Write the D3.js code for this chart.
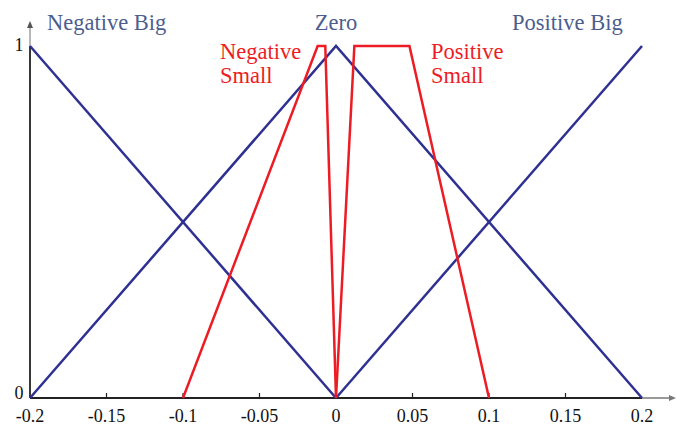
<!DOCTYPE html>
<html>
<head>
<meta charset="utf-8">
<script src="https://cdn.jsdelivr.net/npm/d3@7"></script>
<style>
  html, body { margin: 0; padding: 0; background: #fff; }
  svg { display: block; }
</style>
</head>
<body>
<svg id="chart" width="677" height="430"></svg>
<script>
// Membership functions (x, membership)
const negativeBig   = [[-0.2, 1], [0, 0]];
const zero          = [[-0.2, 0], [0, 1], [0.2, 0]];
const positiveBig   = [[0, 0], [0.2, 1]];
const negativeSmall = [[-0.1, 0], [-0.012, 1], [-0.007, 1], [0, 0]];
const positiveSmall = [[0, 0], [0.012, 1], [0.048, 1], [0.1, 0]];

const xTicks = [-0.2, -0.15, -0.1, -0.05, 0, 0.05, 0.1, 0.15, 0.2];
const xTickLabels = ["-0.2", "-0.15", "-0.1", "-0.05", "0", "0.05", "0.1", "0.15", "0.2"];
const yTicks = [0, 1];

const blue = "#2e3192";
const red = "#ed1c24";
const labelBlue = "#4c5d8e";
const FONT = "'Liberation Serif', 'Times New Roman', Times, 'DejaVu Serif', serif";

const svg = d3.select("#chart").style("font-family", FONT);
const x = d3.scaleLinear().domain([-0.2, 0.2]).range([30, 642]);
const y = d3.scaleLinear().domain([0, 1]).range([398, 46]);

// axes extensions (gray) with arrows
svg.append("line").attr("x1", x(0.2)).attr("x2", 674).attr("y1", y(0)).attr("y2", y(0))
  .attr("stroke", "#777").attr("stroke-width", 1.5);
svg.append("path").attr("d", `M676,${y(0)} l-7,-3 l0,6 z`).attr("fill", "#777");
svg.append("line").attr("x1", x(-0.2)).attr("x2", x(-0.2)).attr("y1", y(1)).attr("y2", 24)
  .attr("stroke", "#888").attr("stroke-width", 1.2);
svg.append("path").attr("d", `M${x(-0.2)},21 l-3,7 l6,0 z`).attr("fill", "#555");

// main axes
svg.append("line").attr("x1", x(-0.2)).attr("x2", x(0.2)).attr("y1", y(0)).attr("y2", y(0))
  .attr("stroke", "#222").attr("stroke-width", 1.8);
svg.append("line").attr("x1", x(-0.2)).attr("x2", x(-0.2)).attr("y1", y(0)).attr("y2", y(1))
  .attr("stroke", "#222").attr("stroke-width", 1.8);

// ticks
svg.selectAll(".xtick").data(xTicks.slice(1, -1)).enter().append("line")
  .attr("x1", d => x(d)).attr("x2", d => x(d))
  .attr("y1", y(0)).attr("y2", y(0) - 5)
  .attr("stroke", "#222").attr("stroke-width", 1.2);

svg.selectAll(".xlab").data(xTicks).enter().append("text")
  .attr("x", d => x(d)).attr("y", 422)
  .attr("text-anchor", "middle").attr("font-size", 18).attr("fill", "#111")
  .attr("font-family", FONT)
  .text((d, i) => xTickLabels[i]);

svg.selectAll(".ylab").data(yTicks).enter().append("text")
  .attr("x", 19).attr("y", d => y(d) + (d === 0 ? 1 : 5))
  .attr("text-anchor", "middle").attr("font-size", 18).attr("fill", "#111")
  .attr("font-family", FONT)
  .text(d => d);

const line = d3.line().x(d => x(d[0])).y(d => y(d[1]));

[negativeBig, zero, positiveBig].forEach(s => {
  svg.append("path").attr("d", line(s)).attr("fill", "none")
    .attr("stroke", blue).attr("stroke-width", 2.5).attr("stroke-linejoin", "miter");
});
[negativeSmall, positiveSmall].forEach(s => {
  svg.append("path").attr("d", line(s)).attr("fill", "none")
    .attr("stroke", red).attr("stroke-width", 2.5).attr("stroke-linejoin", "miter");
});

// labels
const big = [
  { t: "Negative Big", x: 47, anchor: "start" },
  { t: "Zero", x: x(0), anchor: "middle" },
  { t: "Positive Big", x: 512, anchor: "start" }
];
svg.selectAll(".biglab").data(big).enter().append("text")
  .attr("x", d => d.x).attr("y", 30).attr("text-anchor", d => d.anchor)
  .attr("font-family", FONT)
  .attr("font-size", 22.5).attr("fill", labelBlue).text(d => d.t);

const small = [
  { t: ["Negative", "Small"], x: 220 },
  { t: ["Positive", "Small"], x: 431 }
];
small.forEach(s => {
  s.t.forEach((ln, i) => {
    svg.append("text").attr("x", s.x).attr("y", 59 + i * 24)
      .attr("font-family", FONT)
      .attr("font-size", 22.5).attr("fill", red).text(ln);
  });
});
</script>
</body>
</html>
